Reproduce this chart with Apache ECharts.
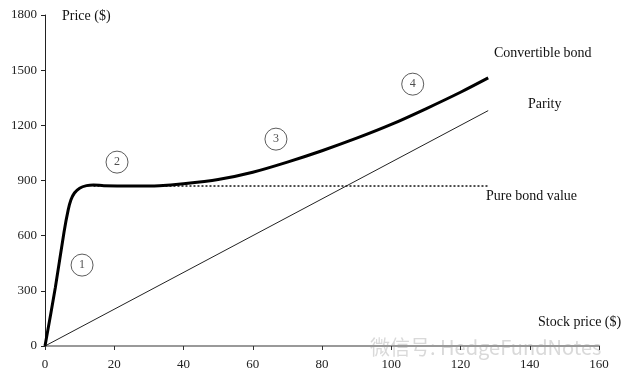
<!DOCTYPE html>
<html>
<head>
<meta charset="utf-8">
<script src="https://cdn.jsdelivr.net/npm/echarts@6/dist/echarts.min.js"></script>
<style>
html,body{margin:0;padding:0;background:#fff;}
#chart{width:640px;height:381px;}
</style>
</head>
<body>
<div id="chart"></div>
<script>
// Data
var xTicks = [0, 20, 40, 60, 80, 100, 120, 140, 160];
var yTicks = [0, 300, 600, 900, 1200, 1500, 1800];

var convStock = [0, 3, 5.5, 6.7, 7.5, 8.5, 10, 12, 14, 17, 25, 33, 40, 50, 60, 70, 80, 90, 100, 110, 120, 128];
var convPrice = [0, 320, 620, 740, 795, 832, 858, 872, 876, 872, 870, 872, 882, 905, 945, 1000, 1062, 1130, 1205, 1290, 1380, 1458];

var parityStock = [0, 128];
var parityPrice = [0, 1280];

var bondStock = [14, 128];
var bondPrice = [870, 870];

var regionLabels = ['1', '2', '3', '4'];
var regionStock = [10.7, 20.8, 66.7, 106.2];
var regionPrice = [440, 1000, 1125, 1424];

function pairs(xs, ys) { return xs.map(function (x, i) { return [x, ys[i]]; }); }

var font = '"Liberation Serif", "DejaVu Serif", serif';
var chart = echarts.init(document.getElementById('chart'));
chart.setOption({
  animation: false,
  backgroundColor: '#fff',
  grid: { left: 45, right: 41, top: 15, bottom: 35 },
  xAxis: {
    type: 'value', min: 0, max: 160, interval: 20,
    axisLine: { show: true, lineStyle: { color: '#999', width: 2 } },
    axisTick: { show: true, inside: false, length: 4, lineStyle: { color: '#333' } },
    axisLabel: { color: '#222', fontFamily: font, fontSize: 13, margin: 12,
      formatter: function (v) { return String(v); } },
    splitLine: { show: false }
  },
  yAxis: {
    type: 'value', min: 0, max: 1800, interval: 300,
    axisLine: { show: true, lineStyle: { color: '#222', width: 1 } },
    axisTick: { show: true, length: 4, lineStyle: { color: '#222' } },
    axisLabel: { color: '#222', fontFamily: font, fontSize: 13, margin: 8,
      formatter: function (v) { return String(v); } },
    splitLine: { show: false }
  },
  series: [
    {
      name: 'Pure bond value', type: 'line', data: pairs(bondStock, bondPrice),
      symbol: 'none', lineStyle: { color: '#111', width: 1.5, type: [2, 2] }, z: 2
    },
    {
      name: 'Parity', type: 'line', data: pairs(parityStock, parityPrice),
      symbol: 'none', lineStyle: { color: '#222', width: 1 }, z: 2
    },
    {
      name: 'Convertible bond', type: 'line', data: pairs(convStock, convPrice),
      symbol: 'none', smooth: 0.3, lineStyle: { color: '#000', width: 3 }, z: 3
    },
    {
      name: 'Regions', type: 'scatter', data: pairs(regionStock, regionPrice),
      symbol: 'circle', symbolSize: 22,
      itemStyle: { color: 'rgba(255,255,255,0)', borderColor: '#333', borderWidth: 1 },
      label: {
        show: true, position: 'inside', color: '#222', fontFamily: font, fontSize: 12,
        formatter: function (p) { return regionLabels[p.dataIndex]; }
      },
      z: 4
    }
  ],
  graphic: [
    { type: 'text', left: 62, top: 9, style: { text: 'Price ($)', font: '14px ' + font, fill: '#111' } },
    { type: 'text', left: 538, top: 315, style: { text: 'Stock price ($)', font: '14px ' + font, fill: '#111' } },
    { type: 'text', left: 494, top: 46, style: { text: 'Convertible bond', font: '14px ' + font, fill: '#111' } },
    { type: 'text', left: 528, top: 97, style: { text: 'Parity', font: '14px ' + font, fill: '#111' } },
    { type: 'text', left: 486, top: 189, style: { text: 'Pure bond value', font: '14px ' + font, fill: '#111' } },
    { type: 'text', left: 370, top: 337, style: { text: '微信号: HedgeFundNotes', font: '20px "Noto Sans CJK SC", sans-serif', fill: 'rgba(180,180,180,0.5)' } }
  ]
});
</script>
</body>
</html>
